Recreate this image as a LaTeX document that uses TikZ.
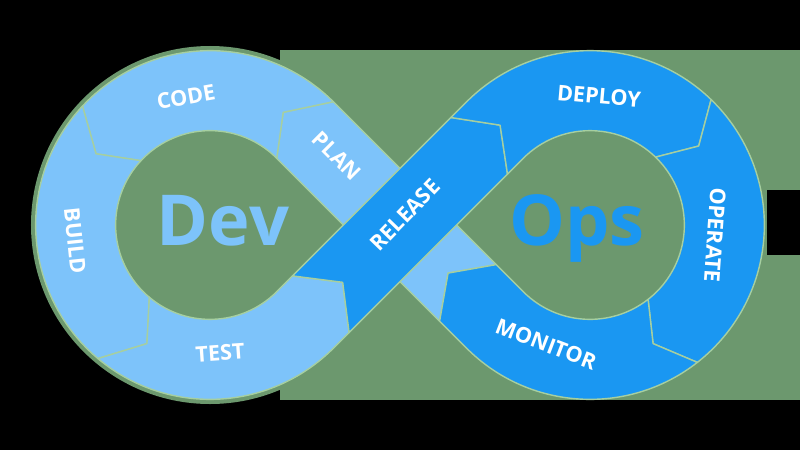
\documentclass[tikz,border=0pt]{standalone}
\usepackage{fontspec}
\setmainfont{Open Sans}
\definecolor{devblue}{HTML}{7DC3FA}
\definecolor{opsblue}{HTML}{1A97F2}
\definecolor{backgreen}{HTML}{6C986E}
\definecolor{seamgreen}{HTML}{A6CFA0}
\newcommand\ringout{174.35}
\newcommand\ringmid{134.35}
\newcommand\ringin{94.35}

\begin{document}
\begin{tikzpicture}[
  x=0.02cm,y=0.02cm,
  devpart/.style={fill=devblue,draw=seamgreen,line width=0.8pt,line join=round},
  opspart/.style={fill=opsblue,draw=seamgreen,line width=0.8pt,line join=round},
  phase/.style={text=white,font=\fontsize{12.3}{14}\selectfont\bfseries,inner sep=0pt},
  bigword/.style={font=\fontsize{40}{44}\selectfont\bfseries,inner sep=0pt,anchor=base}
]
% backdrop
\fill[black] (-400,-225) rectangle (400,225);
\fill[backgreen] (-120,-175) rectangle (400,175);
\fill[backgreen] (-190,0) circle[radius=179];
\fill[black] (367,-30) rectangle (400,35);

\coordinate (devc) at (-190,0);
\coordinate (opsc) at (190,0);
% joints on the two straight bands
\coordinate (mp-l) at (39.6,-96.2);
\coordinate (mp-r) at (96.2,-39.6);
\coordinate (mp-c) at (48.1,-48.1);
\coordinate (tr-l) at (-107.5,-50.9);
\coordinate (tr-r) at (-50.9,-107.5);
\coordinate (tr-c) at (-57.3,-57.3);
\coordinate (rd-l) at (50.9,107.5);
\coordinate (rd-r) at (107.5,50.9);
\coordinate (rd-c) at ([shift={(opsc)}]132:\ringmid);

% plan goes under release
\draw[devpart] (mp-l) -- ([shift={(devc)}]45:\ringin) -- ([shift={(devc)}]57:\ringmid)
  -- ([shift={(devc)}]45:\ringout) -- (mp-r) -- (mp-c) -- cycle;
\draw[devpart] ([shift={(devc)}]45:\ringin) arc[start angle=45,end angle=137,radius=\ringin]
  -- ([shift={(devc)}]148:\ringmid) -- ([shift={(devc)}]137:\ringout)
  arc[start angle=137,end angle=45,radius=\ringout] -- ([shift={(devc)}]57:\ringmid) -- cycle;
\draw[devpart] ([shift={(devc)}]137:\ringin) arc[start angle=137,end angle=230,radius=\ringin]
  -- ([shift={(devc)}]242:\ringmid) -- ([shift={(devc)}]230:\ringout)
  arc[start angle=230,end angle=137,radius=\ringout] -- ([shift={(devc)}]148:\ringmid) -- cycle;
\draw[devpart] ([shift={(devc)}]230:\ringin) arc[start angle=230,end angle=315,radius=\ringin]
  -- (tr-l) -- (tr-c) -- (tr-r) -- ([shift={(devc)}]315:\ringout)
  arc[start angle=315,end angle=230,radius=\ringout] -- ([shift={(devc)}]242:\ringmid) -- cycle;

\draw[opspart] (tr-l) -- (rd-l) -- (rd-c) -- (rd-r) -- (tr-r) -- (tr-c) -- cycle;
\draw[opspart] (rd-l) -- ([shift={(opsc)}]135:\ringout) arc[start angle=135,end angle=46,radius=\ringout]
  -- ([shift={(opsc)}]36:\ringmid) -- ([shift={(opsc)}]46:\ringin)
  arc[start angle=46,end angle=135,radius=\ringin] -- (rd-r) -- (rd-c) -- cycle;
\draw[opspart] ([shift={(opsc)}]46:\ringout) arc[start angle=46,end angle=-52,radius=\ringout]
  -- ([shift={(opsc)}]-62:\ringmid) -- ([shift={(opsc)}]-52:\ringin)
  arc[start angle=-52,end angle=46,radius=\ringin] -- ([shift={(opsc)}]36:\ringmid) -- cycle;
\draw[opspart] ([shift={(opsc)}]-52:\ringout) arc[start angle=-52,end angle=-135,radius=\ringout]
  -- (mp-l) -- (mp-c) -- (mp-r) -- ([shift={(opsc)}]-135:\ringin)
  arc[start angle=-135,end angle=-52,radius=\ringin] -- ([shift={(opsc)}]-62:\ringmid) -- cycle;

% labels
\node[phase,rotate=10] (code) at (-214,128) {CODE};
\node[phase,rotate=-45] (plan) at (-63,69) {PLAN};
\node[phase,rotate=46] (release) at (5,10) {RELEASE};
\node[phase,rotate=-84] (build) at (-325,-16) {BUILD};
\node[phase,rotate=4] (test) at (-180,-128) {TEST};
\node[phase,rotate=-5] (deploy) at (199,129) {DEPLOY};
\node[phase,rotate=-94] (operate) at (315,-10) {OPERATE};
\node[phase,rotate=-21] (monitor) at (146,-119) {MONITOR};
\node[bigword,text=devblue] (dev) at (-177,-20) {Dev};
\node[bigword,text=opsblue] (ops) at (177,-20) {Ops};
\end{tikzpicture}
\end{document}
